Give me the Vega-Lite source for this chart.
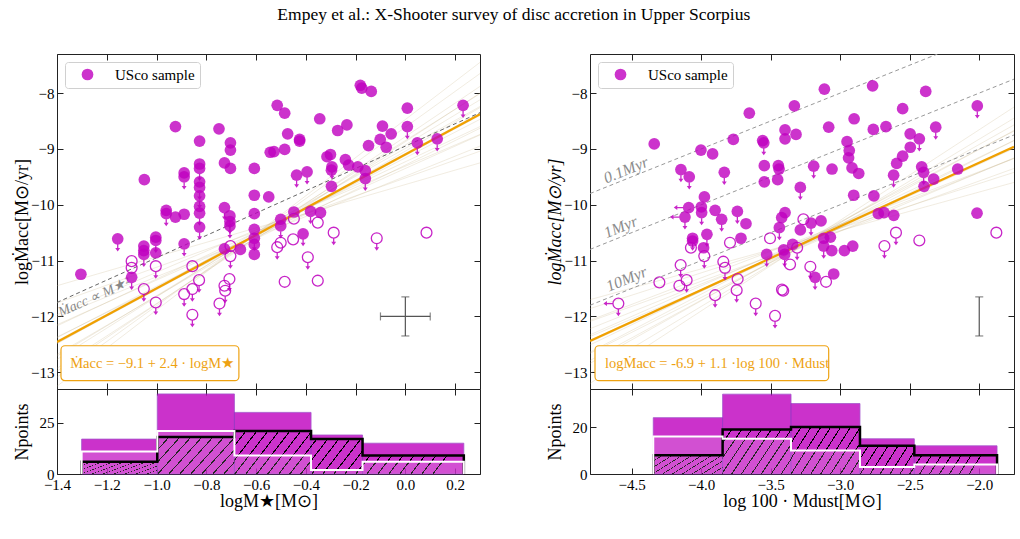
{
"$schema": "https://vega.github.io/schema/vega-lite/v6.json",
"background": "white",
"padding": {"left": 12, "top": 5, "right": 5, "bottom": 5},
"title": {"text": "Empey et al.: X-Shooter survey of disc accretion in Upper Scorpius", "font": "Liberation Serif", "fontSize": 17.5, "fontWeight": "normal", "color": "#000", "anchor": "middle", "frame": "bounds", "offset": 30},
"config": {
  "font": "Liberation Serif",
  "view": {"stroke": "#222", "strokeWidth": 1},
  "axis": {"domain": false, "grid": false, "ticks": true, "tickColor": "#222", "tickSize": -6, "tickWidth": 1, "labelPadding": 9, "labelFont": "Liberation Serif", "labelFontSize": 15, "labelColor": "#000", "labelFlush": false, "labelOverlap": false, "titleFont": "Liberation Serif", "titleFontSize": 18, "titleFontWeight": "normal", "titleColor": "#000"},
  "legend": {"labelFont": "Liberation Serif", "labelFontSize": 15, "labelColor": "#000", "symbolSize": 137, "symbolStrokeWidth": 0, "symbolOpacity": 0.8, "padding": 5, "strokeColor": "#d0d0d0", "fillColor": "#ffffff", "cornerRadius": 3, "labelOffset": 20, "symbolOffset": 10}
},
"datasets": {
  "lpts": [
    {"x":-1.304,"y":-11.245,"f":1,"a":0},{"x":-1.156,"y":-10.61,"f":1,"a":1},{"x":-1.100,"y":-11.01,"f":0,"a":0},{"x":-1.100,"y":-11.13,"f":0,"a":0},{"x":-1.100,"y":-11.30,"f":1,"a":1},
    {"x":-1.049,"y":-9.55,"f":1,"a":0},{"x":-1.051,"y":-10.74,"f":1,"a":0},{"x":-1.051,"y":-10.82,"f":1,"a":0},{"x":-1.051,"y":-10.89,"f":1,"a":1},{"x":-1.051,"y":-11.51,"f":0,"a":1},
    {"x":-1.003,"y":-10.58,"f":1,"a":0},{"x":-1.003,"y":-10.64,"f":1,"a":1},{"x":-1.003,"y":-10.86,"f":1,"a":0},{"x":-1.003,"y":-11.10,"f":0,"a":1},{"x":-1.003,"y":-11.75,"f":0,"a":1},
    {"x":-0.961,"y":-10.10,"f":1,"a":0},{"x":-0.961,"y":-10.16,"f":1,"a":1},{"x":-0.924,"y":-10.22,"f":1,"a":0},{"x":-0.924,"y":-8.60,"f":1,"a":0},{"x":-0.889,"y":-9.43,"f":1,"a":0},
    {"x":-0.889,"y":-9.50,"f":1,"a":1},{"x":-0.889,"y":-10.17,"f":1,"a":0},{"x":-0.889,"y":-10.70,"f":1,"a":1},{"x":-0.889,"y":-11.60,"f":0,"a":1},{"x":-0.856,"y":-11.10,"f":0,"a":0},
    {"x":-0.856,"y":-11.51,"f":0,"a":1},{"x":-0.856,"y":-11.97,"f":0,"a":1},{"x":-0.827,"y":-8.86,"f":1,"a":0},{"x":-0.827,"y":-9.27,"f":1,"a":0},{"x":-0.827,"y":-9.35,"f":1,"a":1},
    {"x":-0.827,"y":-9.59,"f":1,"a":0},{"x":-0.827,"y":-9.69,"f":1,"a":1},{"x":-0.827,"y":-9.84,"f":1,"a":1},{"x":-0.827,"y":-10.03,"f":1,"a":0},{"x":-0.827,"y":-10.15,"f":1,"a":1},
    {"x":-0.827,"y":-10.40,"f":1,"a":1},{"x":-0.829,"y":-11.35,"f":0,"a":1},{"x":-0.749,"y":-8.64,"f":1,"a":0},{"x":-0.747,"y":-11.77,"f":0,"a":1},{"x":-0.727,"y":-9.25,"f":1,"a":0},
    {"x":-0.727,"y":-10.05,"f":1,"a":1},{"x":-0.727,"y":-10.79,"f":1,"a":0},{"x":-0.727,"y":-11.45,"f":0,"a":0},{"x":-0.724,"y":-11.54,"f":0,"a":1},{"x":-0.703,"y":-8.89,"f":1,"a":0},
    {"x":-0.703,"y":-9.02,"f":1,"a":0},{"x":-0.703,"y":-9.35,"f":1,"a":0},{"x":-0.705,"y":-10.20,"f":1,"a":1},{"x":-0.705,"y":-10.30,"f":1,"a":1},{"x":-0.705,"y":-10.38,"f":1,"a":1},
    {"x":-0.703,"y":-10.74,"f":0,"a":0},{"x":-0.703,"y":-10.92,"f":0,"a":1},{"x":-0.707,"y":-11.33,"f":0,"a":1},{"x":-0.663,"y":-10.80,"f":1,"a":0},{"x":-0.607,"y":-9.35,"f":1,"a":0},
    {"x":-0.607,"y":-9.83,"f":1,"a":0},{"x":-0.607,"y":-10.16,"f":1,"a":0},{"x":-0.607,"y":-10.44,"f":1,"a":0},{"x":-0.607,"y":-10.60,"f":1,"a":1},{"x":-0.607,"y":-10.71,"f":1,"a":0},
    {"x":-0.607,"y":-10.89,"f":1,"a":0},{"x":-0.549,"y":-9.86,"f":1,"a":0},{"x":-0.543,"y":-9.06,"f":1,"a":0},{"x":-0.515,"y":-8.22,"f":1,"a":0},{"x":-0.485,"y":-8.36,"f":1,"a":0},
    {"x":-0.528,"y":-9.05,"f":1,"a":0},{"x":-0.485,"y":-9.01,"f":1,"a":0},{"x":-0.473,"y":-8.73,"f":1,"a":0},{"x":-0.425,"y":-8.83,"f":1,"a":0},{"x":-0.425,"y":-8.86,"f":1,"a":0},
    {"x":-0.501,"y":-10.26,"f":1,"a":0},{"x":-0.501,"y":-10.38,"f":1,"a":1},{"x":-0.501,"y":-10.68,"f":0,"a":0},{"x":-0.515,"y":-10.76,"f":0,"a":1},{"x":-0.485,"y":-11.38,"f":0,"a":0},
    {"x":-0.448,"y":-10.13,"f":1,"a":0},{"x":-0.448,"y":-10.25,"f":0,"a":0},{"x":-0.451,"y":-10.62,"f":0,"a":0},{"x":-0.437,"y":-9.47,"f":1,"a":1},{"x":-0.395,"y":-9.41,"f":1,"a":1},
    {"x":-0.411,"y":-10.52,"f":1,"a":1},{"x":-0.392,"y":-10.94,"f":0,"a":1},{"x":-0.381,"y":-10.12,"f":1,"a":1},{"x":-0.344,"y":-8.46,"f":1,"a":0},{"x":-0.341,"y":-10.14,"f":1,"a":0},
    {"x":-0.352,"y":-10.32,"f":0,"a":0},{"x":-0.352,"y":-11.36,"f":0,"a":0},{"x":-0.315,"y":-9.14,"f":1,"a":0},{"x":-0.301,"y":-9.10,"f":1,"a":0},{"x":-0.295,"y":-9.32,"f":1,"a":1},
    {"x":-0.297,"y":-9.38,"f":1,"a":0},{"x":-0.297,"y":-9.67,"f":1,"a":0},{"x":-0.288,"y":-10.50,"f":0,"a":1},{"x":-0.272,"y":-8.67,"f":1,"a":0},{"x":-0.235,"y":-8.57,"f":1,"a":0},
    {"x":-0.241,"y":-9.19,"f":1,"a":0},{"x":-0.228,"y":-9.29,"f":1,"a":0},{"x":-0.191,"y":-9.32,"f":1,"a":0},{"x":-0.181,"y":-7.86,"f":1,"a":0},{"x":-0.175,"y":-7.91,"f":1,"a":0},
    {"x":-0.137,"y":-7.97,"f":1,"a":0},{"x":-0.161,"y":-9.39,"f":1,"a":0},{"x":-0.161,"y":-9.53,"f":1,"a":1},{"x":-0.148,"y":-8.94,"f":1,"a":0},{"x":-0.115,"y":-10.60,"f":0,"a":1},
    {"x":-0.101,"y":-8.83,"f":1,"a":0},{"x":-0.092,"y":-8.59,"f":1,"a":0},{"x":-0.077,"y":-8.97,"f":1,"a":0},{"x":-0.057,"y":-8.73,"f":1,"a":0},{"x":0.008,"y":-8.27,"f":1,"a":0},
    {"x":0.008,"y":-8.60,"f":1,"a":1},{"x":0.048,"y":-8.89,"f":1,"a":1},{"x":0.085,"y":-10.50,"f":0,"a":0},{"x":0.128,"y":-8.82,"f":1,"a":1},{"x":0.232,"y":-8.22,"f":1,"a":1}
  ],
  "rpts": [
    {"x":-4.338,"y":-8.91,"f":1,"a":0,"l":0},{"x":-4.146,"y":-9.37,"f":1,"a":1,"l":0},{"x":-4.086,"y":-9.50,"f":1,"a":1,"l":0},{"x":-4.002,"y":-9.02,"f":1,"a":0,"l":0},{"x":-3.918,"y":-9.09,"f":1,"a":0,"l":0},
    {"x":-3.834,"y":-9.42,"f":1,"a":1,"l":0},{"x":-3.769,"y":-8.83,"f":1,"a":0,"l":0},{"x":-3.654,"y":-8.36,"f":1,"a":0,"l":0},{"x":-3.558,"y":-8.85,"f":1,"a":0,"l":0},{"x":-3.550,"y":-8.89,"f":1,"a":1,"l":0},
    {"x":-3.546,"y":-9.30,"f":1,"a":0,"l":0},{"x":-3.546,"y":-9.59,"f":1,"a":0,"l":0},{"x":-3.445,"y":-9.30,"f":1,"a":0,"l":0},{"x":-3.440,"y":-9.36,"f":1,"a":0,"l":0},{"x":-3.450,"y":-9.55,"f":1,"a":0,"l":0},
    {"x":-3.397,"y":-8.66,"f":1,"a":0,"l":0},{"x":-3.397,"y":-8.82,"f":1,"a":0,"l":0},{"x":-3.330,"y":-8.23,"f":1,"a":0,"l":0},{"x":-3.318,"y":-8.74,"f":1,"a":0,"l":0},{"x":-3.287,"y":-9.69,"f":1,"a":1,"l":0},
    {"x":-3.191,"y":-9.31,"f":1,"a":1,"l":0},{"x":-3.114,"y":-7.93,"f":1,"a":0,"l":0},{"x":-3.083,"y":-8.61,"f":1,"a":0,"l":0},{"x":-3.059,"y":-9.36,"f":1,"a":0,"l":0},{"x":-2.951,"y":-8.87,"f":1,"a":0,"l":0},
    {"x":-2.935,"y":-9.03,"f":1,"a":0,"l":0},{"x":-2.940,"y":-9.16,"f":1,"a":0,"l":0},{"x":-2.915,"y":-9.34,"f":1,"a":0,"l":0},{"x":-2.900,"y":-8.46,"f":1,"a":0,"l":0},{"x":-2.903,"y":-9.83,"f":1,"a":0,"l":0},
    {"x":-2.867,"y":-9.44,"f":1,"a":0,"l":0},{"x":-2.767,"y":-7.87,"f":1,"a":0,"l":0},{"x":-2.762,"y":-8.65,"f":1,"a":0,"l":0},{"x":-2.758,"y":-9.84,"f":1,"a":0,"l":0},{"x":-2.671,"y":-8.60,"f":1,"a":0,"l":0},
    {"x":-2.594,"y":-9.26,"f":1,"a":0,"l":0},{"x":-2.616,"y":-9.47,"f":1,"a":1,"l":0},{"x":-2.551,"y":-8.28,"f":1,"a":0,"l":0},{"x":-2.551,"y":-9.13,"f":1,"a":0,"l":0},{"x":-2.497,"y":-8.73,"f":1,"a":0,"l":0},
    {"x":-2.496,"y":-8.97,"f":1,"a":0,"l":0},{"x":-2.431,"y":-8.82,"f":1,"a":1,"l":0},{"x":-2.414,"y":-9.32,"f":1,"a":0,"l":0},{"x":-2.400,"y":-9.42,"f":1,"a":1,"l":0},{"x":-2.397,"y":-9.67,"f":1,"a":0,"l":0},
    {"x":-2.385,"y":-7.97,"f":1,"a":0,"l":0},{"x":-2.328,"y":-9.54,"f":1,"a":0,"l":0},{"x":-2.313,"y":-8.61,"f":1,"a":1,"l":0},{"x":-2.155,"y":-9.36,"f":1,"a":0,"l":0},{"x":-2.014,"y":-8.23,"f":1,"a":1,"l":0},
    {"x":-2.016,"y":-10.15,"f":1,"a":0,"l":0},{"x":-1.877,"y":-10.50,"f":0,"a":0,"l":0},{"x":-3.977,"y":-9.86,"f":1,"a":0,"l":0},{"x":-4.090,"y":-10.05,"f":1,"a":0,"l":1},{"x":-4.117,"y":-10.22,"f":1,"a":1,"l":1},
    {"x":-3.999,"y":-10.04,"f":1,"a":0,"l":0},{"x":-3.997,"y":-10.14,"f":1,"a":1,"l":0},{"x":-3.900,"y":-10.10,"f":1,"a":0,"l":0},{"x":-3.740,"y":-10.12,"f":1,"a":1,"l":0},{"x":-3.853,"y":-10.26,"f":1,"a":1,"l":0},
    {"x":-3.678,"y":-10.34,"f":1,"a":0,"l":0},{"x":-3.714,"y":-10.60,"f":1,"a":0,"l":0},{"x":-3.959,"y":-10.53,"f":1,"a":1,"l":0},{"x":-4.062,"y":-10.60,"f":1,"a":1,"l":0},{"x":-4.062,"y":-10.65,"f":1,"a":0,"l":0},
    {"x":-4.074,"y":-10.77,"f":0,"a":0,"l":0},{"x":-3.983,"y":-10.77,"f":1,"a":0,"l":0},{"x":-3.978,"y":-10.92,"f":0,"a":1,"l":0},{"x":-3.793,"y":-10.68,"f":0,"a":0,"l":0},{"x":-3.505,"y":-10.60,"f":0,"a":0,"l":0},
    {"x":-3.438,"y":-10.41,"f":1,"a":1,"l":0},{"x":-3.421,"y":-10.23,"f":1,"a":0,"l":0},{"x":-3.397,"y":-10.14,"f":1,"a":0,"l":0},{"x":-3.529,"y":-10.89,"f":1,"a":1,"l":0},{"x":-3.407,"y":-10.81,"f":1,"a":0,"l":0},
    {"x":-3.400,"y":-10.89,"f":1,"a":1,"l":0},{"x":-3.361,"y":-11.07,"f":0,"a":0,"l":0},{"x":-3.342,"y":-10.71,"f":1,"a":0,"l":0},{"x":-3.310,"y":-10.77,"f":0,"a":1,"l":0},{"x":-3.287,"y":-10.45,"f":1,"a":0,"l":0},
    {"x":-3.265,"y":-10.26,"f":0,"a":0,"l":0},{"x":-3.210,"y":-10.33,"f":1,"a":1,"l":0},{"x":-3.138,"y":-10.29,"f":1,"a":0,"l":0},{"x":-3.119,"y":-10.60,"f":1,"a":0,"l":0},{"x":-3.119,"y":-10.74,"f":1,"a":1,"l":0},
    {"x":-3.071,"y":-10.58,"f":1,"a":0,"l":0},{"x":-3.061,"y":-10.82,"f":1,"a":0,"l":0},{"x":-2.970,"y":-10.82,"f":1,"a":0,"l":0},{"x":-2.910,"y":-10.74,"f":1,"a":0,"l":0},{"x":-3.215,"y":-11.11,"f":0,"a":1,"l":0},
    {"x":-3.181,"y":-11.30,"f":1,"a":1,"l":0},{"x":-3.102,"y":-11.38,"f":0,"a":0,"l":0},{"x":-3.047,"y":-11.24,"f":1,"a":0,"l":0},{"x":-2.726,"y":-10.16,"f":1,"a":0,"l":0},{"x":-2.685,"y":-10.14,"f":1,"a":0,"l":0},
    {"x":-2.615,"y":-10.19,"f":1,"a":0,"l":0},{"x":-2.682,"y":-10.74,"f":0,"a":1,"l":0},{"x":-2.599,"y":-10.50,"f":0,"a":1,"l":0},{"x":-2.431,"y":-10.64,"f":0,"a":0,"l":0},{"x":-4.596,"y":-11.77,"f":0,"a":1,"l":1},
    {"x":-4.301,"y":-11.39,"f":0,"a":0,"l":0},{"x":-4.148,"y":-11.08,"f":0,"a":1,"l":0},{"x":-4.157,"y":-11.45,"f":0,"a":0,"l":0},{"x":-4.105,"y":-11.35,"f":0,"a":1,"l":0},{"x":-3.841,"y":-11.02,"f":0,"a":0,"l":0},
    {"x":-3.829,"y":-11.13,"f":0,"a":1,"l":0},{"x":-3.738,"y":-11.33,"f":0,"a":0,"l":0},{"x":-3.745,"y":-11.53,"f":0,"a":1,"l":0},{"x":-3.900,"y":-11.62,"f":0,"a":1,"l":0},{"x":-3.608,"y":-11.77,"f":0,"a":1,"l":0},
    {"x":-3.469,"y":-11.99,"f":0,"a":1,"l":0},{"x":-3.419,"y":-11.52,"f":0,"a":0,"l":0},{"x":-3.410,"y":-11.54,"f":0,"a":0,"l":0}
  ],
  "ldraws": [
    {"k":1,"x":-1.4,"y":-11.76},{"k":1,"x":0.3,"y":-9.04},{"k":2,"x":-1.4,"y":-12.01},{"k":2,"x":0.3,"y":-8.95},
    {"k":3,"x":-1.4,"y":-11.97},{"k":3,"x":0.3,"y":-8.74},{"k":4,"x":-1.4,"y":-12.15},{"k":4,"x":0.3,"y":-8.75},
    {"k":5,"x":-1.4,"y":-12.17},{"k":5,"x":0.3,"y":-8.60},{"k":6,"x":-1.4,"y":-12.37},{"k":6,"x":0.3,"y":-8.63},
    {"k":7,"x":-1.4,"y":-12.38},{"k":7,"x":0.3,"y":-8.47},{"k":8,"x":-1.4,"y":-12.44},{"k":8,"x":0.3,"y":-8.36},
    {"k":9,"x":-1.4,"y":-12.48},{"k":9,"x":0.3,"y":-8.40},{"k":10,"x":-1.4,"y":-12.49},{"k":10,"x":0.3,"y":-8.24},
    {"k":11,"x":-1.4,"y":-12.68},{"k":11,"x":0.3,"y":-8.26},{"k":12,"x":-1.4,"y":-12.71},{"k":12,"x":0.3,"y":-8.12},
    {"k":13,"x":-1.4,"y":-12.77},{"k":13,"x":0.3,"y":-8.01},{"k":14,"x":-1.4,"y":-12.93},{"k":14,"x":0.3,"y":-8.00},
    {"k":15,"x":-1.4,"y":-12.98},{"k":15,"x":0.3,"y":-7.88},{"k":16,"x":-1.4,"y":-13.09},{"k":16,"x":0.3,"y":-7.65},
    {"k":17,"x":-1.4,"y":-11.45},{"k":17,"x":0.3,"y":-9.25},{"k":18,"x":-1.4,"y":-13.25},{"k":18,"x":0.3,"y":-7.45}
  ],
  "rdraws": [
    {"k":1,"x":-4.8,"y":-11.86},{"k":1,"x":-1.75,"y":-9.42},{"k":2,"x":-4.8,"y":-12.09},{"k":2,"x":-1.75,"y":-9.35},
    {"k":3,"x":-4.8,"y":-12.07},{"k":3,"x":-1.75,"y":-9.17},{"k":4,"x":-4.8,"y":-12.22},{"k":4,"x":-1.75,"y":-9.17},
    {"k":5,"x":-4.8,"y":-12.36},{"k":5,"x":-1.75,"y":-9.16},{"k":6,"x":-4.8,"y":-12.33},{"k":6,"x":-1.75,"y":-8.98},
    {"k":7,"x":-4.8,"y":-12.43},{"k":7,"x":-1.75,"y":-8.96},{"k":8,"x":-4.8,"y":-12.46},{"k":8,"x":-1.75,"y":-8.99},
    {"k":9,"x":-4.8,"y":-12.51},{"k":9,"x":-1.75,"y":-8.85},{"k":10,"x":-4.8,"y":-12.66},{"k":10,"x":-1.75,"y":-8.85},
    {"k":11,"x":-4.8,"y":-12.64},{"k":11,"x":-1.75,"y":-8.68},{"k":12,"x":-4.8,"y":-12.79},{"k":12,"x":-1.75,"y":-8.67},
    {"k":13,"x":-4.8,"y":-12.84},{"k":13,"x":-1.75,"y":-8.57},{"k":14,"x":-4.8,"y":-13.02},{"k":14,"x":-1.75,"y":-8.45},
    {"k":15,"x":-4.8,"y":-11.70},{"k":15,"x":-1.75,"y":-9.60},{"k":16,"x":-4.8,"y":-13.20},{"k":16,"x":-1.75,"y":-8.25}
  ],
  "lfit": [{"x":-1.4,"y":-12.46},{"x":0.3,"y":-8.38}],
  "lm2": [{"x":-1.4,"y":-11.75},{"x":0.3,"y":-8.35}],
  "lerr": [{"x":0.0,"y":-12.0,"xlo":-0.1,"xhi":0.1,"ylo":-12.35,"yhi":-11.65}],
  "rfit": [{"x":-4.8,"y":-12.44},{"x":-1.75,"y":-8.96}],
  "riso": [{"k":"0.1","x":-4.8,"y":-9.8},{"k":"0.1","x":-2.3,"y":-7.3},{"k":"1","x":-4.8,"y":-10.8},{"k":"1","x":-1.75,"y":-7.75},{"k":"10","x":-4.8,"y":-11.8},{"k":"10","x":-1.75,"y":-8.75}],
  "rerr": [{"x":-2.0,"y":-12.0,"ylo":-12.35,"yhi":-11.65}],
  "lhist": [{"x0":-1.301,"x1":-0.997,"n":17},{"x0":-0.997,"x1":-0.687,"n":39},{"x0":-0.687,"x1":-0.379,"n":30},{"x0":-0.379,"x1":-0.172,"n":19},{"x0":-0.172,"x1":0.235,"n":15}],
  "rhist": [{"x0":-4.345,"x1":-3.846,"n":24},{"x0":-3.846,"x1":-3.354,"n":34},{"x0":-3.354,"x1":-2.858,"n":30},{"x0":-2.858,"x1":-2.467,"n":15},{"x0":-2.467,"x1":-1.872,"n":12}],
  "lstep": [
    {"s":"h","i":0,"x":-1.301,"n":0},{"s":"h","i":1,"x":-1.301,"n":6},{"s":"h","i":2,"x":-0.997,"n":18},{"s":"h","i":3,"x":-0.687,"n":21},{"s":"h","i":4,"x":-0.379,"n":17},{"s":"h","i":5,"x":-0.172,"n":9},{"s":"h","i":6,"x":0.235,"n":0},
    {"s":"d","i":0,"x":-1.301,"n":0},{"s":"d","i":1,"x":-1.301,"n":11},{"s":"d","i":2,"x":-0.997,"n":21},{"s":"d","i":3,"x":-0.687,"n":9},{"s":"d","i":4,"x":-0.379,"n":2},{"s":"d","i":5,"x":-0.172,"n":6},{"s":"d","i":6,"x":0.235,"n":0}
  ],
  "rstep": [
    {"s":"h","i":0,"x":-4.345,"n":0},{"s":"h","i":1,"x":-4.345,"n":8},{"s":"h","i":2,"x":-3.846,"n":19},{"s":"h","i":3,"x":-3.354,"n":20},{"s":"h","i":4,"x":-2.858,"n":12},{"s":"h","i":5,"x":-2.467,"n":8},{"s":"h","i":6,"x":-1.872,"n":0},
    {"s":"d","i":0,"x":-4.345,"n":0},{"s":"d","i":1,"x":-4.345,"n":16},{"s":"d","i":2,"x":-3.846,"n":15},{"s":"d","i":3,"x":-3.354,"n":10},{"s":"d","i":4,"x":-2.858,"n":3},{"s":"d","i":5,"x":-2.467,"n":4},{"s":"d","i":6,"x":-1.872,"n":0}
  ]
},
"hconcat": [
  {
    "vconcat": [
      {
        "width": 423, "height": 335,
        "resolve": {"axis": {"x": "independent", "y": "independent"}},
        "layer": [
          {"data": {"name": "ldraws"}, "mark": {"type": "line", "clip": true, "color": "#c8b287", "opacity": 0.25, "strokeWidth": 1},
           "encoding": {
             "x": {"field": "x", "type": "quantitative", "scale": {"domain": [-1.4, 0.3], "nice": false, "zero": false}, "axis": {"orient": "bottom", "values": [-1.4,-1.2,-1.0,-0.8,-0.6,-0.4,-0.2,0.0,0.2], "labels": false, "title": null}},
             "y": {"field": "y", "type": "quantitative", "scale": {"domain": [-13.3, -7.3], "nice": false, "zero": false}, "axis": {"orient": "left", "values": [-13,-12,-11,-10,-9,-8], "format": "d", "title": "logṀacc[M⊙/yr]", "minExtent": 24, "maxExtent": 24, "titlePadding": 2}},
             "detail": {"field": "k", "type": "nominal"}}},
          {"data": {"name": "lfit"}, "mark": {"type": "line", "clip": true, "color": "#f0a000", "strokeWidth": 2.2},
           "encoding": {
             "x": {"field": "x", "type": "quantitative", "axis": {"orient": "top", "values": [-1.4,-1.2,-1.0,-0.8,-0.6,-0.4,-0.2,0.0,0.2], "labels": false, "title": null}},
             "y": {"field": "y", "type": "quantitative", "axis": {"orient": "right", "values": [-13,-12,-11,-10,-9,-8], "labels": false, "title": null}}}},
          {"data": {"name": "lm2"}, "mark": {"type": "line", "clip": true, "color": "#666", "strokeWidth": 1, "strokeDash": [4, 3]},
           "encoding": {"x": {"field": "x", "type": "quantitative", "axis": null}, "y": {"field": "y", "type": "quantitative", "axis": null}}},
          {"data": {"name": "lerr"}, "mark": {"type": "rule", "color": "#555", "strokeWidth": 1.2},
           "encoding": {"x": {"field": "xlo", "type": "quantitative", "axis": null}, "x2": {"field": "xhi"}, "y": {"field": "y", "type": "quantitative", "axis": null}}},
          {"data": {"name": "lerr"}, "mark": {"type": "rule", "color": "#555", "strokeWidth": 1.2},
           "encoding": {"x": {"field": "x", "type": "quantitative", "axis": null}, "y": {"field": "ylo", "type": "quantitative", "axis": null}, "y2": {"field": "yhi"}}},
          {"data": {"name": "lerr"}, "mark": {"type": "tick", "orient": "vertical", "color": "#555", "size": 8, "thickness": 1.2},
           "encoding": {"x": {"field": "xlo", "type": "quantitative", "axis": null}, "y": {"field": "y", "type": "quantitative", "axis": null}}},
          {"data": {"name": "lerr"}, "mark": {"type": "tick", "orient": "vertical", "color": "#555", "size": 8, "thickness": 1.2},
           "encoding": {"x": {"field": "xhi", "type": "quantitative", "axis": null}, "y": {"field": "y", "type": "quantitative", "axis": null}}},
          {"data": {"name": "lerr"}, "mark": {"type": "tick", "orient": "horizontal", "color": "#555", "size": 8, "thickness": 1.2},
           "encoding": {"x": {"field": "x", "type": "quantitative", "axis": null}, "y": {"field": "ylo", "type": "quantitative", "axis": null}}},
          {"data": {"name": "lerr"}, "mark": {"type": "tick", "orient": "horizontal", "color": "#555", "size": 8, "thickness": 1.2},
           "encoding": {"x": {"field": "x", "type": "quantitative", "axis": null}, "y": {"field": "yhi", "type": "quantitative", "axis": null}}},
          {"data": {"values": [{}]}, "mark": {"type": "text", "font": "Liberation Serif", "fontStyle": "italic", "fontSize": 14, "color": "#888", "angle": 336, "align": "center", "baseline": "middle"},
           "encoding": {"x": {"datum": -1.25, "type": "quantitative", "axis": null}, "y": {"datum": -11.66, "type": "quantitative", "axis": null}, "text": {"value": "Ṁacc ∝ M★²"}}},
          {"data": {"name": "lpts"}, "transform": [{"filter": "datum.f == 0"}], "mark": {"type": "point", "shape": "circle", "filled": false, "color": "#bf00bf", "opacity": 0.85, "size": 118, "strokeWidth": 1.3},
           "encoding": {"x": {"field": "x", "type": "quantitative", "axis": null}, "y": {"field": "y", "type": "quantitative", "axis": null}}},
          {"data": {"name": "lpts"}, "transform": [{"filter": "datum.a == 1"}], "mark": {"type": "point", "shape": "M-0.11,0.95L0.11,0.95L0.11,1.55L0.42,1.55L0,2.15L-0.42,1.55L-0.11,1.55Z", "filled": true, "color": "#bf00bf", "opacity": 0.85, "size": 137, "strokeWidth": 0},
           "encoding": {"x": {"field": "x", "type": "quantitative", "axis": null}, "y": {"field": "y", "type": "quantitative", "axis": null}}},
          {"data": {"name": "lpts"}, "transform": [{"filter": "datum.f == 1"}], "mark": {"type": "point", "shape": "circle", "filled": true, "opacity": 0.8, "size": 137, "strokeWidth": 0},
           "encoding": {"x": {"field": "x", "type": "quantitative", "axis": null}, "y": {"field": "y", "type": "quantitative", "axis": null},
             "color": {"datum": "USco sample", "type": "nominal", "scale": {"range": ["#bf00bf"]}, "legend": {"title": null, "orient": "top-left", "offset": 8}}}},
          {"data": {"values": [{}]}, "mark": {"type": "rect", "fill": "#ffffff", "stroke": "#eea211", "strokeWidth": 1.2, "cornerRadius": 4},
           "encoding": {"x": {"datum": -1.384, "type": "quantitative", "axis": null}, "x2": {"datum": -0.669}, "y": {"datum": -12.525, "type": "quantitative", "axis": null}, "y2": {"datum": -13.15}}},
          {"data": {"values": [{}]}, "mark": {"type": "text", "font": "Liberation Serif", "fontSize": 14.5, "color": "#eea211", "align": "left", "baseline": "middle"},
           "encoding": {"x": {"datum": -1.347, "type": "quantitative", "axis": null}, "y": {"datum": -12.86, "type": "quantitative", "axis": null}, "text": {"value": "Ṁacc = −9.1 + 2.4 · logM★"}}}
        ]
      },
      {
        "width": 423, "height": 85,
        "resolve": {"axis": {"x": "independent", "y": "independent"}},
        "layer": [
          {"data": {"name": "lhist"}, "mark": {"type": "rect", "color": "#bf00bf", "opacity": 0.8, "stroke": "#8e2bc0", "strokeWidth": 0.8},
           "encoding": {
             "x": {"field": "x0", "type": "quantitative", "scale": {"domain": [-1.4, 0.3], "nice": false, "zero": false}, "axis": {"orient": "bottom", "values": [-1.4,-1.2,-1.0,-0.8,-0.6,-0.4,-0.2,0.0,0.2], "format": ".1f", "title": "logM★[M⊙]", "titlePadding": 0}},
             "x2": {"field": "x1"},
             "y": {"field": "n", "type": "quantitative", "scale": {"domain": [0, 41.4], "nice": false}, "axis": {"orient": "left", "values": [0, 25], "title": "Npoints", "minExtent": 24, "maxExtent": 24, "titlePadding": 2}},
             "y2": {"datum": 0}}},
          {"data": {"name": "lstep"}, "transform": [{"filter": "datum.s == 'h'"}],
           "mark": {"type": "area", "interpolate": "step-after", "fill": {"gradient": "linear", "x1": 0, "y1": 0, "x2": 1, "y2": 0.087, "stops": [
{"offset":0,"color":"rgba(0,0,0,0)"},{"offset":0.0251,"color":"rgba(0,0,0,0)"},{"offset":0.0251,"color":"#000"},{"offset":0.0286,"color":"#000"},
{"offset":0.0286,"color":"rgba(0,0,0,0)"},{"offset":0.0537,"color":"rgba(0,0,0,0)"},{"offset":0.0537,"color":"#000"},{"offset":0.0571,"color":"#000"},
{"offset":0.0571,"color":"rgba(0,0,0,0)"},{"offset":0.0823,"color":"rgba(0,0,0,0)"},{"offset":0.0823,"color":"#000"},{"offset":0.0857,"color":"#000"},
{"offset":0.0857,"color":"rgba(0,0,0,0)"},{"offset":0.1109,"color":"rgba(0,0,0,0)"},{"offset":0.1109,"color":"#000"},{"offset":0.1143,"color":"#000"},
{"offset":0.1143,"color":"rgba(0,0,0,0)"},{"offset":0.1394,"color":"rgba(0,0,0,0)"},{"offset":0.1394,"color":"#000"},{"offset":0.1429,"color":"#000"},
{"offset":0.1429,"color":"rgba(0,0,0,0)"},{"offset":0.1680,"color":"rgba(0,0,0,0)"},{"offset":0.1680,"color":"#000"},{"offset":0.1714,"color":"#000"},
{"offset":0.1714,"color":"rgba(0,0,0,0)"},{"offset":0.1966,"color":"rgba(0,0,0,0)"},{"offset":0.1966,"color":"#000"},{"offset":0.2,"color":"#000"},
{"offset":0.2,"color":"rgba(0,0,0,0)"},{"offset":0.2251,"color":"rgba(0,0,0,0)"},{"offset":0.2251,"color":"#000"},{"offset":0.2286,"color":"#000"},
{"offset":0.2286,"color":"rgba(0,0,0,0)"},{"offset":0.2537,"color":"rgba(0,0,0,0)"},{"offset":0.2537,"color":"#000"},{"offset":0.2571,"color":"#000"},
{"offset":0.2571,"color":"rgba(0,0,0,0)"},{"offset":0.2823,"color":"rgba(0,0,0,0)"},{"offset":0.2823,"color":"#000"},{"offset":0.2857,"color":"#000"},
{"offset":0.2857,"color":"rgba(0,0,0,0)"},{"offset":0.3109,"color":"rgba(0,0,0,0)"},{"offset":0.3109,"color":"#000"},{"offset":0.3143,"color":"#000"},
{"offset":0.3143,"color":"rgba(0,0,0,0)"},{"offset":0.3394,"color":"rgba(0,0,0,0)"},{"offset":0.3394,"color":"#000"},{"offset":0.3429,"color":"#000"},
{"offset":0.3429,"color":"rgba(0,0,0,0)"},{"offset":0.3680,"color":"rgba(0,0,0,0)"},{"offset":0.3680,"color":"#000"},{"offset":0.3714,"color":"#000"},
{"offset":0.3714,"color":"rgba(0,0,0,0)"},{"offset":0.3966,"color":"rgba(0,0,0,0)"},{"offset":0.3966,"color":"#000"},{"offset":0.4,"color":"#000"},
{"offset":0.4,"color":"rgba(0,0,0,0)"},{"offset":0.4251,"color":"rgba(0,0,0,0)"},{"offset":0.4251,"color":"#000"},{"offset":0.4286,"color":"#000"},
{"offset":0.4286,"color":"rgba(0,0,0,0)"},{"offset":0.4537,"color":"rgba(0,0,0,0)"},{"offset":0.4537,"color":"#000"},{"offset":0.4571,"color":"#000"},
{"offset":0.4571,"color":"rgba(0,0,0,0)"},{"offset":0.4823,"color":"rgba(0,0,0,0)"},{"offset":0.4823,"color":"#000"},{"offset":0.4857,"color":"#000"},
{"offset":0.4857,"color":"rgba(0,0,0,0)"},{"offset":0.5109,"color":"rgba(0,0,0,0)"},{"offset":0.5109,"color":"#000"},{"offset":0.5143,"color":"#000"},
{"offset":0.5143,"color":"rgba(0,0,0,0)"},{"offset":0.5394,"color":"rgba(0,0,0,0)"},{"offset":0.5394,"color":"#000"},{"offset":0.5429,"color":"#000"},
{"offset":0.5429,"color":"rgba(0,0,0,0)"},{"offset":0.5680,"color":"rgba(0,0,0,0)"},{"offset":0.5680,"color":"#000"},{"offset":0.5714,"color":"#000"},
{"offset":0.5714,"color":"rgba(0,0,0,0)"},{"offset":0.5966,"color":"rgba(0,0,0,0)"},{"offset":0.5966,"color":"#000"},{"offset":0.6,"color":"#000"},
{"offset":0.6,"color":"rgba(0,0,0,0)"},{"offset":0.6251,"color":"rgba(0,0,0,0)"},{"offset":0.6251,"color":"#000"},{"offset":0.6286,"color":"#000"},
{"offset":0.6286,"color":"rgba(0,0,0,0)"},{"offset":0.6537,"color":"rgba(0,0,0,0)"},{"offset":0.6537,"color":"#000"},{"offset":0.6571,"color":"#000"},
{"offset":0.6571,"color":"rgba(0,0,0,0)"},{"offset":0.6823,"color":"rgba(0,0,0,0)"},{"offset":0.6823,"color":"#000"},{"offset":0.6857,"color":"#000"},
{"offset":0.6857,"color":"rgba(0,0,0,0)"},{"offset":0.7109,"color":"rgba(0,0,0,0)"},{"offset":0.7109,"color":"#000"},{"offset":0.7143,"color":"#000"},
{"offset":0.7143,"color":"rgba(0,0,0,0)"},{"offset":0.7394,"color":"rgba(0,0,0,0)"},{"offset":0.7394,"color":"#000"},{"offset":0.7429,"color":"#000"},
{"offset":0.7429,"color":"rgba(0,0,0,0)"},{"offset":0.7680,"color":"rgba(0,0,0,0)"},{"offset":0.7680,"color":"#000"},{"offset":0.7714,"color":"#000"},
{"offset":0.7714,"color":"rgba(0,0,0,0)"},{"offset":0.7966,"color":"rgba(0,0,0,0)"},{"offset":0.7966,"color":"#000"},{"offset":0.8,"color":"#000"},
{"offset":0.8,"color":"rgba(0,0,0,0)"},{"offset":0.8251,"color":"rgba(0,0,0,0)"},{"offset":0.8251,"color":"#000"},{"offset":0.8286,"color":"#000"},
{"offset":0.8286,"color":"rgba(0,0,0,0)"},{"offset":0.8537,"color":"rgba(0,0,0,0)"},{"offset":0.8537,"color":"#000"},{"offset":0.8571,"color":"#000"},
{"offset":0.8571,"color":"rgba(0,0,0,0)"},{"offset":0.8823,"color":"rgba(0,0,0,0)"},{"offset":0.8823,"color":"#000"},{"offset":0.8857,"color":"#000"},
{"offset":0.8857,"color":"rgba(0,0,0,0)"},{"offset":0.9109,"color":"rgba(0,0,0,0)"},{"offset":0.9109,"color":"#000"},{"offset":0.9143,"color":"#000"},
{"offset":0.9143,"color":"rgba(0,0,0,0)"},{"offset":0.9394,"color":"rgba(0,0,0,0)"},{"offset":0.9394,"color":"#000"},{"offset":0.9429,"color":"#000"},
{"offset":0.9429,"color":"rgba(0,0,0,0)"},{"offset":0.9680,"color":"rgba(0,0,0,0)"},{"offset":0.9680,"color":"#000"},{"offset":0.9714,"color":"#000"},
{"offset":0.9714,"color":"rgba(0,0,0,0)"},{"offset":0.9966,"color":"rgba(0,0,0,0)"},{"offset":0.9966,"color":"#000"},{"offset":0.9999,"color":"#000"},
{"offset":0.9999,"color":"rgba(0,0,0,0)"},{"offset":1,"color":"rgba(0,0,0,0)"}
]}},
           "encoding": {"x": {"field": "x", "type": "quantitative", "axis": null}, "y": {"field": "n", "type": "quantitative", "axis": null}, "order": {"field": "i"}}},
          {"data": {"name": "lstep"}, "transform": [{"filter": "datum.s == 'd'"}], "mark": {"type": "area", "interpolate": "step-after", "color": "#ffffff", "opacity": 0.15},
           "encoding": {"x": {"field": "x", "type": "quantitative", "axis": null}, "y": {"field": "n", "type": "quantitative", "axis": null}, "order": {"field": "i"}}},
          {"data": {"name": "lstep"}, "transform": [{"filter": "datum.s == 'h'"}], "mark": {"type": "line", "interpolate": "step-after", "color": "#000", "strokeWidth": 2.5},
           "encoding": {
             "x": {"field": "x", "type": "quantitative", "axis": {"orient": "top", "values": [-1.4,-1.2,-1.0,-0.8,-0.6,-0.4,-0.2,0.0,0.2], "labels": false, "title": null}},
             "y": {"field": "n", "type": "quantitative", "axis": {"orient": "right", "values": [0, 25], "labels": false, "title": null}},
             "order": {"field": "i"}}},
          {"data": {"name": "lstep"}, "transform": [{"filter": "datum.s == 'd'"}], "mark": {"type": "line", "interpolate": "step-after", "color": "#ffffff", "strokeWidth": 2},
           "encoding": {"x": {"field": "x", "type": "quantitative", "axis": null}, "y": {"field": "n", "type": "quantitative", "axis": null}, "order": {"field": "i"}}}
        ]
      }
    ],
    "spacing": 0,
    "bounds": "flush",
    "resolve": {"scale": {"x": "independent", "y": "independent", "color": "independent"}, "legend": {"color": "independent"}}
  },
  {
    "vconcat": [
      {
        "width": 424, "height": 335,
        "resolve": {"axis": {"x": "independent", "y": "independent"}},
        "layer": [
          {"data": {"name": "rdraws"}, "mark": {"type": "line", "clip": true, "color": "#c8b287", "opacity": 0.25, "strokeWidth": 1},
           "encoding": {
             "x": {"field": "x", "type": "quantitative", "scale": {"domain": [-4.8, -1.75], "nice": false, "zero": false}, "axis": {"orient": "bottom", "values": [-4.5,-4.0,-3.5,-3.0,-2.5,-2.0], "labels": false, "title": null}},
             "y": {"field": "y", "type": "quantitative", "scale": {"domain": [-13.3, -7.3], "nice": false, "zero": false}, "axis": {"orient": "left", "values": [-13,-12,-11,-10,-9,-8], "format": "d", "title": "logṀacc[M⊙/yr]", "titleFontStyle": "italic", "minExtent": 24, "maxExtent": 24, "titlePadding": 2}},
             "detail": {"field": "k", "type": "nominal"}}},
          {"data": {"name": "rfit"}, "mark": {"type": "line", "clip": true, "color": "#f0a000", "strokeWidth": 2.2},
           "encoding": {
             "x": {"field": "x", "type": "quantitative", "axis": {"orient": "top", "values": [-4.5,-4.0,-3.5,-3.0,-2.5,-2.0], "labels": false, "title": null}},
             "y": {"field": "y", "type": "quantitative", "axis": {"orient": "right", "values": [-13,-12,-11,-10,-9,-8], "labels": false, "title": null}}}},
          {"data": {"name": "riso"}, "mark": {"type": "line", "clip": true, "color": "#999", "strokeWidth": 1, "strokeDash": [4, 3]},
           "encoding": {"x": {"field": "x", "type": "quantitative", "axis": null}, "y": {"field": "y", "type": "quantitative", "axis": null}, "detail": {"field": "k", "type": "nominal"}}},
          {"data": {"name": "rerr"}, "mark": {"type": "rule", "color": "#555", "strokeWidth": 1.2},
           "encoding": {"x": {"field": "x", "type": "quantitative", "axis": null}, "y": {"field": "ylo", "type": "quantitative", "axis": null}, "y2": {"field": "yhi"}}},
          {"data": {"name": "rerr"}, "mark": {"type": "tick", "orient": "horizontal", "color": "#555", "size": 8, "thickness": 1.2},
           "encoding": {"x": {"field": "x", "type": "quantitative", "axis": null}, "y": {"field": "ylo", "type": "quantitative", "axis": null}}},
          {"data": {"name": "rerr"}, "mark": {"type": "tick", "orient": "horizontal", "color": "#555", "size": 8, "thickness": 1.2},
           "encoding": {"x": {"field": "x", "type": "quantitative", "axis": null}, "y": {"field": "yhi", "type": "quantitative", "axis": null}}},
          {"data": {"values": [{}]}, "mark": {"type": "text", "font": "Liberation Serif", "fontStyle": "italic", "fontSize": 16, "color": "#8c8c8c", "angle": 338, "align": "center", "baseline": "middle"},
           "encoding": {"x": {"datum": -4.541, "type": "quantitative", "axis": null}, "y": {"datum": -9.38, "type": "quantitative", "axis": null}, "text": {"value": "0.1Myr"}}},
          {"data": {"values": [{}]}, "mark": {"type": "text", "font": "Liberation Serif", "fontStyle": "italic", "fontSize": 16, "color": "#8c8c8c", "angle": 338, "align": "center", "baseline": "middle"},
           "encoding": {"x": {"datum": -4.579, "type": "quantitative", "axis": null}, "y": {"datum": -10.40, "type": "quantitative", "axis": null}, "text": {"value": "1Myr"}}},
          {"data": {"values": [{}]}, "mark": {"type": "text", "font": "Liberation Serif", "fontStyle": "italic", "fontSize": 16, "color": "#8c8c8c", "angle": 338, "align": "center", "baseline": "middle"},
           "encoding": {"x": {"datum": -4.536, "type": "quantitative", "axis": null}, "y": {"datum": -11.33, "type": "quantitative", "axis": null}, "text": {"value": "10Myr"}}},
          {"data": {"name": "rpts"}, "transform": [{"filter": "datum.f == 0"}], "mark": {"type": "point", "shape": "circle", "filled": false, "color": "#bf00bf", "opacity": 0.85, "size": 118, "strokeWidth": 1.3},
           "encoding": {"x": {"field": "x", "type": "quantitative", "axis": null}, "y": {"field": "y", "type": "quantitative", "axis": null}}},
          {"data": {"name": "rpts"}, "transform": [{"filter": "datum.a == 1"}], "mark": {"type": "point", "shape": "M-0.11,0.95L0.11,0.95L0.11,1.55L0.42,1.55L0,2.15L-0.42,1.55L-0.11,1.55Z", "filled": true, "color": "#bf00bf", "opacity": 0.85, "size": 137, "strokeWidth": 0},
           "encoding": {"x": {"field": "x", "type": "quantitative", "axis": null}, "y": {"field": "y", "type": "quantitative", "axis": null}}},
          {"data": {"name": "rpts"}, "transform": [{"filter": "datum.l == 1"}], "mark": {"type": "point", "shape": "M-0.95,-0.11L-0.95,0.11L-1.95,0.11L-1.95,0.42L-2.55,0L-1.95,-0.42L-1.95,-0.11Z", "filled": true, "color": "#bf00bf", "opacity": 0.85, "size": 137, "strokeWidth": 0},
           "encoding": {"x": {"field": "x", "type": "quantitative", "axis": null}, "y": {"field": "y", "type": "quantitative", "axis": null}}},
          {"data": {"name": "rpts"}, "transform": [{"filter": "datum.f == 1"}], "mark": {"type": "point", "shape": "circle", "filled": true, "opacity": 0.8, "size": 137, "strokeWidth": 0},
           "encoding": {"x": {"field": "x", "type": "quantitative", "axis": null}, "y": {"field": "y", "type": "quantitative", "axis": null},
             "color": {"datum": "USco sample", "type": "nominal", "scale": {"range": ["#bf00bf"]}, "legend": {"title": null, "orient": "top-left", "offset": 8}}}},
          {"data": {"values": [{}]}, "mark": {"type": "rect", "fill": "#ffffff", "stroke": "#eea211", "strokeWidth": 1.2, "cornerRadius": 4},
           "encoding": {"x": {"datum": -4.764, "type": "quantitative", "axis": null}, "x2": {"datum": -3.083}, "y": {"datum": -12.525, "type": "quantitative", "axis": null}, "y2": {"datum": -13.15}}},
          {"data": {"values": [{}]}, "mark": {"type": "text", "font": "Liberation Serif", "fontSize": 14.5, "color": "#eea211", "align": "left", "baseline": "middle"},
           "encoding": {"x": {"datum": -4.692, "type": "quantitative", "axis": null}, "y": {"datum": -12.86, "type": "quantitative", "axis": null}, "text": {"value": "logṀacc = -6.9 + 1.1 ·log 100 · Mdust"}}}
        ]
      },
      {
        "width": 424, "height": 85,
        "resolve": {"axis": {"x": "independent", "y": "independent"}},
        "layer": [
          {"data": {"name": "rhist"}, "mark": {"type": "rect", "color": "#bf00bf", "opacity": 0.8, "stroke": "#8e2bc0", "strokeWidth": 0.8},
           "encoding": {
             "x": {"field": "x0", "type": "quantitative", "scale": {"domain": [-4.8, -1.75], "nice": false, "zero": false}, "axis": {"orient": "bottom", "values": [-4.5,-4.0,-3.5,-3.0,-2.5,-2.0], "format": ".1f", "title": "log 100 · Mdust[M⊙]", "titlePadding": 0}},
             "x2": {"field": "x1"},
             "y": {"field": "n", "type": "quantitative", "scale": {"domain": [0, 36.2], "nice": false}, "axis": {"orient": "left", "values": [0, 20], "title": "Npoints", "minExtent": 24, "maxExtent": 24, "titlePadding": 2}},
             "y2": {"datum": 0}}},
          {"data": {"name": "rstep"}, "transform": [{"filter": "datum.s == 'h'"}],
           "mark": {"type": "area", "interpolate": "step-after", "fill": {"gradient": "linear", "x1": 0, "y1": 0, "x2": 1, "y2": 0.087, "stops": [
{"offset":0,"color":"rgba(0,0,0,0)"},{"offset":0.0251,"color":"rgba(0,0,0,0)"},{"offset":0.0251,"color":"#000"},{"offset":0.0286,"color":"#000"},
{"offset":0.0286,"color":"rgba(0,0,0,0)"},{"offset":0.0537,"color":"rgba(0,0,0,0)"},{"offset":0.0537,"color":"#000"},{"offset":0.0571,"color":"#000"},
{"offset":0.0571,"color":"rgba(0,0,0,0)"},{"offset":0.0823,"color":"rgba(0,0,0,0)"},{"offset":0.0823,"color":"#000"},{"offset":0.0857,"color":"#000"},
{"offset":0.0857,"color":"rgba(0,0,0,0)"},{"offset":0.1109,"color":"rgba(0,0,0,0)"},{"offset":0.1109,"color":"#000"},{"offset":0.1143,"color":"#000"},
{"offset":0.1143,"color":"rgba(0,0,0,0)"},{"offset":0.1394,"color":"rgba(0,0,0,0)"},{"offset":0.1394,"color":"#000"},{"offset":0.1429,"color":"#000"},
{"offset":0.1429,"color":"rgba(0,0,0,0)"},{"offset":0.1680,"color":"rgba(0,0,0,0)"},{"offset":0.1680,"color":"#000"},{"offset":0.1714,"color":"#000"},
{"offset":0.1714,"color":"rgba(0,0,0,0)"},{"offset":0.1966,"color":"rgba(0,0,0,0)"},{"offset":0.1966,"color":"#000"},{"offset":0.2,"color":"#000"},
{"offset":0.2,"color":"rgba(0,0,0,0)"},{"offset":0.2251,"color":"rgba(0,0,0,0)"},{"offset":0.2251,"color":"#000"},{"offset":0.2286,"color":"#000"},
{"offset":0.2286,"color":"rgba(0,0,0,0)"},{"offset":0.2537,"color":"rgba(0,0,0,0)"},{"offset":0.2537,"color":"#000"},{"offset":0.2571,"color":"#000"},
{"offset":0.2571,"color":"rgba(0,0,0,0)"},{"offset":0.2823,"color":"rgba(0,0,0,0)"},{"offset":0.2823,"color":"#000"},{"offset":0.2857,"color":"#000"},
{"offset":0.2857,"color":"rgba(0,0,0,0)"},{"offset":0.3109,"color":"rgba(0,0,0,0)"},{"offset":0.3109,"color":"#000"},{"offset":0.3143,"color":"#000"},
{"offset":0.3143,"color":"rgba(0,0,0,0)"},{"offset":0.3394,"color":"rgba(0,0,0,0)"},{"offset":0.3394,"color":"#000"},{"offset":0.3429,"color":"#000"},
{"offset":0.3429,"color":"rgba(0,0,0,0)"},{"offset":0.3680,"color":"rgba(0,0,0,0)"},{"offset":0.3680,"color":"#000"},{"offset":0.3714,"color":"#000"},
{"offset":0.3714,"color":"rgba(0,0,0,0)"},{"offset":0.3966,"color":"rgba(0,0,0,0)"},{"offset":0.3966,"color":"#000"},{"offset":0.4,"color":"#000"},
{"offset":0.4,"color":"rgba(0,0,0,0)"},{"offset":0.4251,"color":"rgba(0,0,0,0)"},{"offset":0.4251,"color":"#000"},{"offset":0.4286,"color":"#000"},
{"offset":0.4286,"color":"rgba(0,0,0,0)"},{"offset":0.4537,"color":"rgba(0,0,0,0)"},{"offset":0.4537,"color":"#000"},{"offset":0.4571,"color":"#000"},
{"offset":0.4571,"color":"rgba(0,0,0,0)"},{"offset":0.4823,"color":"rgba(0,0,0,0)"},{"offset":0.4823,"color":"#000"},{"offset":0.4857,"color":"#000"},
{"offset":0.4857,"color":"rgba(0,0,0,0)"},{"offset":0.5109,"color":"rgba(0,0,0,0)"},{"offset":0.5109,"color":"#000"},{"offset":0.5143,"color":"#000"},
{"offset":0.5143,"color":"rgba(0,0,0,0)"},{"offset":0.5394,"color":"rgba(0,0,0,0)"},{"offset":0.5394,"color":"#000"},{"offset":0.5429,"color":"#000"},
{"offset":0.5429,"color":"rgba(0,0,0,0)"},{"offset":0.5680,"color":"rgba(0,0,0,0)"},{"offset":0.5680,"color":"#000"},{"offset":0.5714,"color":"#000"},
{"offset":0.5714,"color":"rgba(0,0,0,0)"},{"offset":0.5966,"color":"rgba(0,0,0,0)"},{"offset":0.5966,"color":"#000"},{"offset":0.6,"color":"#000"},
{"offset":0.6,"color":"rgba(0,0,0,0)"},{"offset":0.6251,"color":"rgba(0,0,0,0)"},{"offset":0.6251,"color":"#000"},{"offset":0.6286,"color":"#000"},
{"offset":0.6286,"color":"rgba(0,0,0,0)"},{"offset":0.6537,"color":"rgba(0,0,0,0)"},{"offset":0.6537,"color":"#000"},{"offset":0.6571,"color":"#000"},
{"offset":0.6571,"color":"rgba(0,0,0,0)"},{"offset":0.6823,"color":"rgba(0,0,0,0)"},{"offset":0.6823,"color":"#000"},{"offset":0.6857,"color":"#000"},
{"offset":0.6857,"color":"rgba(0,0,0,0)"},{"offset":0.7109,"color":"rgba(0,0,0,0)"},{"offset":0.7109,"color":"#000"},{"offset":0.7143,"color":"#000"},
{"offset":0.7143,"color":"rgba(0,0,0,0)"},{"offset":0.7394,"color":"rgba(0,0,0,0)"},{"offset":0.7394,"color":"#000"},{"offset":0.7429,"color":"#000"},
{"offset":0.7429,"color":"rgba(0,0,0,0)"},{"offset":0.7680,"color":"rgba(0,0,0,0)"},{"offset":0.7680,"color":"#000"},{"offset":0.7714,"color":"#000"},
{"offset":0.7714,"color":"rgba(0,0,0,0)"},{"offset":0.7966,"color":"rgba(0,0,0,0)"},{"offset":0.7966,"color":"#000"},{"offset":0.8,"color":"#000"},
{"offset":0.8,"color":"rgba(0,0,0,0)"},{"offset":0.8251,"color":"rgba(0,0,0,0)"},{"offset":0.8251,"color":"#000"},{"offset":0.8286,"color":"#000"},
{"offset":0.8286,"color":"rgba(0,0,0,0)"},{"offset":0.8537,"color":"rgba(0,0,0,0)"},{"offset":0.8537,"color":"#000"},{"offset":0.8571,"color":"#000"},
{"offset":0.8571,"color":"rgba(0,0,0,0)"},{"offset":0.8823,"color":"rgba(0,0,0,0)"},{"offset":0.8823,"color":"#000"},{"offset":0.8857,"color":"#000"},
{"offset":0.8857,"color":"rgba(0,0,0,0)"},{"offset":0.9109,"color":"rgba(0,0,0,0)"},{"offset":0.9109,"color":"#000"},{"offset":0.9143,"color":"#000"},
{"offset":0.9143,"color":"rgba(0,0,0,0)"},{"offset":0.9394,"color":"rgba(0,0,0,0)"},{"offset":0.9394,"color":"#000"},{"offset":0.9429,"color":"#000"},
{"offset":0.9429,"color":"rgba(0,0,0,0)"},{"offset":0.9680,"color":"rgba(0,0,0,0)"},{"offset":0.9680,"color":"#000"},{"offset":0.9714,"color":"#000"},
{"offset":0.9714,"color":"rgba(0,0,0,0)"},{"offset":0.9966,"color":"rgba(0,0,0,0)"},{"offset":0.9966,"color":"#000"},{"offset":0.9999,"color":"#000"},
{"offset":0.9999,"color":"rgba(0,0,0,0)"},{"offset":1,"color":"rgba(0,0,0,0)"}
]}},
           "encoding": {"x": {"field": "x", "type": "quantitative", "axis": null}, "y": {"field": "n", "type": "quantitative", "axis": null}, "order": {"field": "i"}}},
          {"data": {"name": "rstep"}, "transform": [{"filter": "datum.s == 'd'"}], "mark": {"type": "area", "interpolate": "step-after", "color": "#ffffff", "opacity": 0.15},
           "encoding": {"x": {"field": "x", "type": "quantitative", "axis": null}, "y": {"field": "n", "type": "quantitative", "axis": null}, "order": {"field": "i"}}},
          {"data": {"name": "rstep"}, "transform": [{"filter": "datum.s == 'h'"}], "mark": {"type": "line", "interpolate": "step-after", "color": "#000", "strokeWidth": 2.5},
           "encoding": {
             "x": {"field": "x", "type": "quantitative", "axis": {"orient": "top", "values": [-4.5,-4.0,-3.5,-3.0,-2.5,-2.0], "labels": false, "title": null}},
             "y": {"field": "n", "type": "quantitative", "axis": {"orient": "right", "values": [0, 20], "labels": false, "title": null}},
             "order": {"field": "i"}}},
          {"data": {"name": "rstep"}, "transform": [{"filter": "datum.s == 'd'"}], "mark": {"type": "line", "interpolate": "step-after", "color": "#ffffff", "strokeWidth": 2},
           "encoding": {"x": {"field": "x", "type": "quantitative", "axis": null}, "y": {"field": "n", "type": "quantitative", "axis": null}, "order": {"field": "i"}}}
        ]
      }
    ],
    "spacing": 0,
    "bounds": "flush",
    "resolve": {"scale": {"x": "independent", "y": "independent", "color": "independent"}, "legend": {"color": "independent"}}
  }
],
"spacing": 64,
"resolve": {"scale": {"x": "independent", "y": "independent", "color": "independent"}, "legend": {"color": "independent"}}
}
